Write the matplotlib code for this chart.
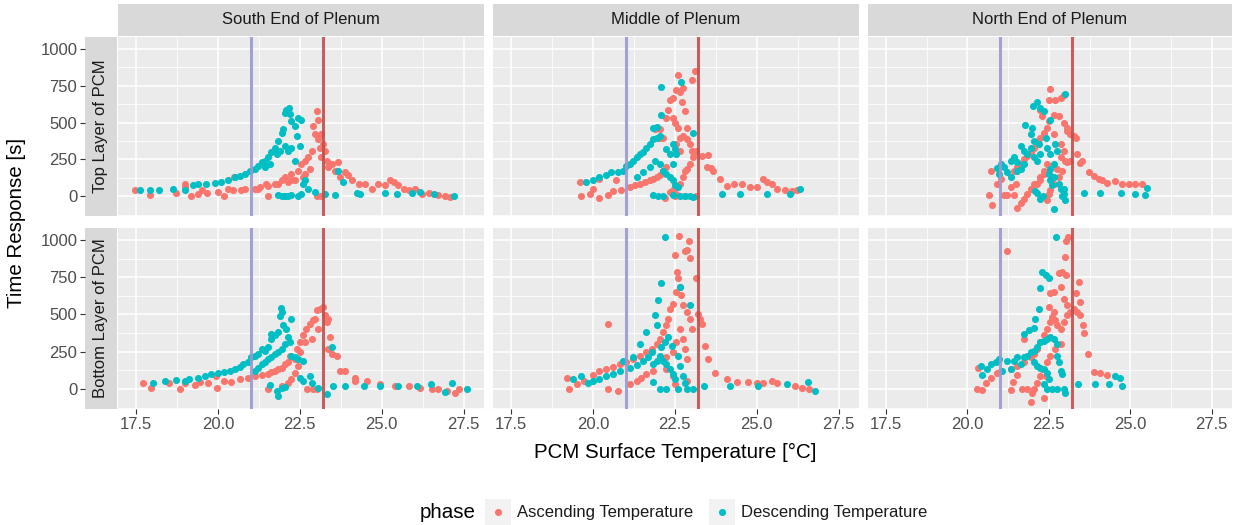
# PCM time response facets, ggplot-like look
import numpy as np
import matplotlib.pyplot as plt
from matplotlib.patches import Rectangle

plt.rcParams['font.family'] = ['Liberation Sans', 'DejaVu Sans']

columns = ['South End of Plenum', 'Middle of Plenum', 'North End of Plenum']
rows = ['Top Layer of PCM', 'Bottom Layer of PCM']
phases = ['Ascending Temperature', 'Descending Temperature']
x_ticks = [17.5, 20.0, 22.5, 25.0, 27.5]
y_ticks = [0, 250, 500, 750, 1000]
melt_lo = 21.0
melt_hi = 23.2

# (temperature, time response)
south_top_asc = [
    (17.47, 40), (17.93, 11), (18.72, 22), (18.98, 85), (19.0, 60), (19.18, 0), (19.39, 18),
    (19.5, 40), (19.67, 22), (20.0, 29), (20.18, 0), (20.3, 50), (20.46, 40), (20.5, 130),
    (20.7, 45), (20.82, 51), (21.12, 51), (21.22, 51), (21.28, 62), (21.48, 85), (21.53, 0),
    (21.53, 67), (21.73, 85), (21.84, 85), (21.94, 107), (22.04, 130), (22.14, 96), (22.24, 152),
    (22.24, 107), (22.35, 107), (22.45, 174), (22.55, 219), (22.6, 130), (22.65, 241), (22.65, 152),
    (22.76, 263), (22.8, 185), (22.86, 308), (22.91, 475), (22.96, 419), (23.01, 580), (23.04, 520),
    (23.06, 386), (23.11, 330), (23.14, 263), (23.16, 419), (23.21, 352), (23.27, 308), (23.32, 241),
    (23.37, 196), (23.47, 219), (23.57, 174), (23.67, 230), (23.72, 130), (23.88, 163), (23.98, 141),
    (24.08, 107), (24.29, 85), (24.49, 85), (24.7, 51), (24.9, 85), (25.1, 74), (25.26, 107),
    (25.36, 96), (25.51, 74), (25.67, 51), (25.82, 40), (26.02, 51), (26.23, 18), (26.43, 22),
    (26.73, 7), (26.94, 0), (27.09, -4), (23.01, 0), (23.16, 0)]
south_top_desc = [
    (17.63, 40), (17.93, 40), (18.21, 40), (18.62, 51), (18.98, 45), (19.23, 74), (19.39, 85),
    (19.64, 85), (19.9, 89), (20.1, 96), (20.31, 112), (20.51, 130), (20.66, 134), (20.82, 152),
    (20.97, 174), (21.12, 185), (21.22, 207), (21.33, 230), (21.43, 241), (21.53, 263), (21.63, 297),
    (21.73, 330), (21.84, 375), (21.94, 430), (21.99, 453), (22.04, 564), (22.09, 587), (22.16, 598),
    (22.19, 558), (22.24, 508), (22.35, 475), (22.45, 530), (22.55, 519), (22.4, 408), (22.5, 341),
    (22.24, 330), (22.04, 341), (22.14, 308), (21.79, 285), (21.89, 308), (21.58, 219), (21.43, 196),
    (22.35, 241), (21.84, 7), (21.94, 0), (22.04, 0), (22.14, 0), (22.24, 7), (22.45, 0),
    (22.53, 18), (22.6, 85), (22.65, 107), (22.76, 51), (22.96, 29), (23.27, 18), (23.57, 7),
    (23.67, 174), (23.83, 96), (24.23, 22), (24.33, 18), (25.1, 22), (25.46, 13), (25.92, 22),
    (26.17, 29), (26.58, 18), (27.19, 0)]

middle_top_asc = [
    (19.61, 96), (19.64, 0), (19.9, 18), (20.0, 51), (20.18, -9), (20.2, 118), (20.46, 7),
    (20.61, 36), (20.71, 107), (20.87, 45), (21.12, 62), (21.28, 74), (21.43, 85), (21.58, 96),
    (21.73, 107), (21.84, 118), (21.94, 130), (22.04, 147), (22.14, 174), (22.24, 196), (22.35, 29),
    (22.45, 40), (22.55, 18), (22.65, 85), (22.76, 130), (22.81, 174), (22.86, 185), (22.96, 219),
    (23.06, 263), (23.11, 297), (23.16, 308), (23.32, 275), (23.52, 281), (23.47, 196), (23.6, 190),
    (23.67, 174), (23.88, 118), (24.08, 67), (24.29, 85), (24.54, 85), (24.8, 62), (25.0, 62),
    (25.2, 118), (25.31, 96), (25.46, 85), (25.61, 51), (25.87, 40), (26.07, 36), (26.22, 45),
    (22.04, 453), (22.14, 397), (22.24, 530), (22.3, 586), (22.35, 653), (22.45, 664), (22.6, 821),
    (22.55, 720), (22.65, 709), (22.71, 642), (22.76, 731), (22.81, 575), (22.86, 464), (23.01, 787),
    (23.11, 847), (22.45, 530), (22.5, 497), (22.6, 464), (22.65, 397), (22.76, 408), (22.86, 386),
    (22.96, 352), (23.01, 308), (22.55, 352), (22.65, 308), (21.89, 453), (22.04, 397), (22.81, 0),
    (23.16, 0), (22.5, 0), (22.19, -9)]
middle_top_desc = [
    (19.8, 96), (20.0, 107), (20.2, 130), (20.41, 141), (20.56, 163), (20.76, 163), (20.92, 174),
    (21.02, 207), (21.12, 219), (21.22, 241), (21.33, 263), (21.43, 285), (21.53, 297), (21.63, 330),
    (21.73, 352), (21.84, 386), (21.94, 397), (22.04, 408), (22.09, 553), (21.84, 464), (21.94, 468),
    (22.07, 743), (22.68, 776), (23.04, 430), (21.33, 130), (21.53, 163), (21.73, 196), (21.89, 241),
    (22.04, 219), (22.14, 174), (22.24, 152), (22.35, 130), (22.45, 107), (22.5, 74), (22.6, 62),
    (22.45, 219), (22.55, 285), (22.5, 319), (22.45, 352), (22.35, 285), (22.24, 319), (21.84, 7),
    (21.99, 0), (22.14, 0), (22.45, 7), (22.65, 0), (22.81, 0), (22.96, 0), (23.06, -4),
    (23.93, 13), (24.49, 13), (25.31, 13), (26.02, 13), (26.31, 51)]

north_top_asc = [
    (20.66, 7), (20.76, -60), (20.71, 174), (20.92, 85), (21.02, 118), (21.12, 7), (21.22, 7),
    (21.33, 62), (21.43, 7), (21.48, 85), (21.51, -83), (21.63, -49), (21.73, -16), (21.84, 18),
    (21.94, 51), (22.04, 85), (22.14, 85), (22.24, 130), (22.35, 174), (22.45, 219), (22.5, 18),
    (22.45, -27), (22.55, 40), (22.65, 85), (22.81, 130), (22.91, 174), (23.01, 241), (23.16, 241),
    (23.37, 285), (23.52, 236), (23.47, 225), (23.72, 163), (23.88, 134), (24.03, 118), (24.13, 107),
    (24.29, 89), (24.54, 103), (24.74, 85), (24.95, 85), (25.15, 85), (25.36, 80), (22.55, 727),
    (22.5, 653), (22.7, 653), (22.86, 664), (22.96, 687), (22.24, 586), (22.3, 542), (22.65, 553),
    (22.8, 542), (22.96, 497), (23.06, 442), (23.27, 408), (23.32, 397), (22.5, 508), (22.45, 464),
    (22.35, 430), (22.24, 397), (22.14, 364), (22.04, 330), (21.94, 297), (21.84, 274), (21.73, 252),
    (21.63, 219), (21.53, 196), (21.43, 174), (22.65, 419), (22.86, 352), (22.96, 308), (23.06, 230),
    (22.86, 263), (22.76, 185), (22.35, 152), (22.24, 107), (23.06, 464), (23.16, 419)]
north_top_desc = [
    (20.9, 192), (20.97, 152), (21.02, 219), (21.12, 196), (21.22, 163), (21.33, 130), (21.33, 241),
    (21.43, 263), (21.53, 230), (21.63, 341), (21.73, 308), (21.78, 486), (21.94, 419), (21.99, 464),
    (22.01, 609), (22.14, 642), (22.24, 598), (22.35, 575), (22.55, 519), (22.4, 397), (22.19, 352),
    (22.04, 375), (21.94, 330), (21.84, 285), (21.73, 219), (21.63, 185), (21.53, 174), (22.04, 263),
    (22.14, 241), (22.24, 285), (22.45, 330), (22.55, 285), (22.7, 352), (22.76, 308), (22.65, 219),
    (22.55, 185), (22.5, 152), (22.55, 107), (22.6, 74), (22.65, 130), (22.81, 85), (22.86, 51),
    (22.96, 18), (23.01, -27), (22.91, 0), (22.65, -89), (22.24, -16), (22.14, 22), (22.09, 36),
    (22.32, 2), (23.01, 691), (22.96, 51), (23.57, 22), (24.08, 22), (24.7, 22), (25.15, 13),
    (25.46, 7), (25.51, 58)]

south_bot_asc = [
    (17.7, 38), (17.96, 9), (18.52, 43), (18.83, 0), (18.98, 38), (19.29, 25), (19.44, 47),
    (19.7, 43), (19.95, 88), (19.98, 9), (20.2, 54), (20.41, 47), (20.66, 65), (20.92, 77),
    (21.12, 88), (21.33, 92), (21.53, 99), (21.73, 122), (21.94, 144), (22.14, 178), (22.3, 212),
    (22.4, 268), (22.5, 314), (22.6, 359), (22.7, 404), (22.81, 438), (22.91, 460), (23.01, 528),
    (23.11, 539), (23.21, 551), (23.27, 494), (23.32, 449), (23.37, 472), (23.42, 348), (23.37, 268),
    (23.47, 235), (23.62, 223), (23.72, 122), (23.88, 122), (24.18, 77), (24.18, 54), (24.54, 54),
    (24.95, 32), (25.41, 20), (25.82, 20), (26.17, 9), (26.53, 2), (26.73, 2), (26.98, -14),
    (27.24, -25), (27.35, 0), (22.96, 472), (23.06, 404), (22.86, 336), (22.65, 314), (22.5, 246),
    (22.35, 201), (22.19, 223), (22.04, 167), (21.84, 137), (21.63, 115), (22.45, 155), (22.35, 110),
    (22.24, 65), (22.14, 38), (21.94, 20), (21.53, 2), (22.71, 2), (22.91, 0), (23.01, 2)]
south_bot_desc = [
    (18.01, 43), (18.37, 54), (18.72, 61), (18.98, 54), (19.13, 65), (19.39, 77), (19.59, 88),
    (19.8, 99), (20.0, 106), (20.2, 115), (20.36, 122), (20.51, 137), (20.66, 151), (20.77, 167),
    (20.92, 178), (21.02, 212), (21.12, 223), (21.22, 235), (21.33, 268), (21.43, 257), (21.53, 280),
    (21.63, 336), (21.63, 370), (21.73, 359), (21.84, 381), (21.89, 490), (21.92, 544), (21.94, 517),
    (21.99, 427), (22.09, 404), (22.14, 348), (22.24, 472), (22.19, 314), (22.04, 302), (21.94, 268),
    (21.84, 246), (21.73, 235), (21.63, 212), (21.53, 201), (21.43, 178), (21.33, 167), (21.22, 144),
    (21.12, 122), (22.24, 223), (22.35, 212), (22.45, 201), (22.6, 189), (22.5, 77), (22.6, 54),
    (22.81, 88), (22.86, 43), (23.06, 9), (23.32, -36), (23.47, 280), (23.52, 20), (23.88, 20),
    (24.47, 20), (24.95, 20), (25.51, 20), (26.07, 20), (26.51, 32), (26.94, -20), (27.14, 43),
    (27.6, 2), (21.58, 25), (21.84, -47), (21.94, 9), (22.04, 16), (21.81, -14)]

middle_bot_asc = [
    (19.2, 77), (19.27, 0), (19.52, 32), (19.74, 54), (20.0, 92), (20.2, 122), (20.41, 137),
    (20.46, 433), (20.46, 2), (20.61, 151), (20.76, -14), (20.82, 167), (21.02, 178), (21.12, 32),
    (21.22, 201), (21.33, 54), (21.43, 223), (21.48, 77), (21.63, 246), (21.63, 99), (21.79, 268),
    (21.84, 122), (21.94, 302), (22.04, 336), (22.14, 381), (22.24, 427), (22.3, 472), (22.35, 539),
    (22.45, 573), (22.5, 897), (22.55, 652), (22.57, 788), (22.6, 743), (22.63, 1025), (22.65, 686),
    (22.7, 630), (22.76, 562), (22.81, 924), (22.86, 935), (22.93, 995), (22.96, 878), (22.86, 517),
    (22.96, 472), (23.01, 404), (23.16, 743), (23.21, 506), (23.27, 472), (23.32, 438), (22.65, 404),
    (22.76, 336), (22.81, 268), (22.86, 201), (22.55, 314), (22.45, 246), (22.24, 212), (22.24, 133),
    (22.45, 88), (22.5, 32), (22.86, 54), (23.42, 291), (23.52, 201), (23.72, 110), (24.08, 65),
    (24.39, 47), (24.74, 47), (25.0, 43), (25.2, 43), (25.46, 54), (25.61, 38), (26.17, 20),
    (26.38, 9), (26.58, 2)]
middle_bot_desc = [
    (19.39, 70), (19.64, 88), (19.85, 43), (20.0, 54), (20.2, 65), (20.41, 88), (20.61, 99),
    (20.82, 122), (20.92, 189), (21.12, 144), (21.22, 212), (21.33, 158), (21.43, 302), (21.53, 189),
    (21.63, 381), (21.68, 212), (21.79, 246), (21.89, 497), (21.94, 427), (21.99, 594), (22.09, 708),
    (22.19, 1018), (22.09, 280), (22.19, 314), (22.3, 348), (22.4, 291), (22.04, 223), (21.94, 189),
    (21.84, 167), (22.14, 189), (22.24, 167), (22.35, 133), (22.45, 99), (22.5, 65), (22.65, 686),
    (22.96, 562), (22.6, 223), (22.65, 155), (22.76, 88), (22.81, 43), (21.84, 47), (22.04, 2),
    (22.24, 2), (22.6, 2), (22.86, 2), (23.06, 2), (23.38, 20), (24.18, 20), (25.05, 20),
    (25.92, 32), (26.55, 47), (26.77, -11)]

north_bot_asc = [
    (20.31, 2), (20.46, -7), (20.33, 144), (20.56, 43), (20.71, 77), (20.92, 110), (21.02, 122),
    (21.22, 923), (21.33, -7), (21.41, 47), (21.53, 95), (21.33, 133), (21.53, 155), (21.73, 178),
    (21.94, 212), (22.04, 235), (22.14, 268), (22.24, 314), (22.35, 359), (22.45, 404), (22.55, 449),
    (22.6, 483), (22.65, 517), (22.7, 461), (22.76, 427), (22.86, 404), (22.96, 449), (23.06, 494),
    (23.16, 517), (23.27, 539), (23.37, 517), (23.47, 494), (23.42, 720), (23.32, 641), (23.47, 584),
    (23.55, 427), (23.59, 377), (23.69, 235), (22.5, 548), (22.55, 641), (22.65, 652), (22.81, 776),
    (22.91, 788), (23.04, 765), (22.98, 883), (23.04, 991), (23.1, 1018), (22.86, 686), (22.96, 607),
    (23.06, 562), (21.73, 337), (21.68, 2), (21.84, 2), (21.99, -25), (21.96, -86), (22.04, 2),
    (22.14, 43), (22.24, 88), (22.3, 133), (22.35, -63), (22.4, 88), (22.45, 178), (22.55, 223),
    (22.7, 268), (22.86, 302), (23.88, 115), (24.08, 106), (24.29, 95)]
north_bot_desc = [
    (20.41, 155), (20.46, 92), (20.61, 133), (20.71, 167), (20.87, 178), (20.97, 201), (21.07, 122),
    (21.22, 189), (21.33, 133), (21.43, 189), (21.53, 212), (21.63, 167), (21.73, 212), (21.84, 223),
    (21.94, 246), (22.04, 257), (22.14, 280), (22.24, 314), (22.35, 325), (22.45, 337), (22.55, 348),
    (22.65, 337), (22.76, 302), (22.76, 223), (22.81, 178), (22.86, 122), (22.91, 99), (21.73, 370),
    (21.89, 393), (22.04, 411), (22.09, 472), (22.19, 539), (22.24, 680), (22.3, 788), (22.4, 765),
    (22.5, 743), (22.71, 1018), (22.04, 178), (22.14, 155), (22.24, 144), (22.35, 133), (22.45, 110),
    (22.5, 65), (22.35, 32), (22.45, 2), (22.6, 2), (22.76, 2), (22.96, 0), (23.01, -25),
    (23.4, 32), (23.93, 32), (24.34, 32), (24.54, 88), (24.68, 77), (24.74, 20)]

panel_data = [
    [(south_top_asc, south_top_desc), (middle_top_asc, middle_top_desc), (north_top_asc, north_top_desc)],
    [(south_bot_asc, south_bot_desc), (middle_bot_asc, middle_bot_desc), (north_bot_asc, north_bot_desc)],
]

colors = ['#F8766D', '#00BFC4']
W, H = 1233, 525
fig = plt.figure(figsize=(W / 100, H / 100), dpi=100)


def rect(x0, y0, x1, y1):
    return [x0 / W, 1 - y1 / H, (x1 - x0) / W, (y1 - y0) / H]


col_px = [(118, 484), (493, 859), (868, 1232)]
row_px = [(37, 216), (228, 409)]
xlim = (16.95, 28.12)
ylim = (-134, 1080)
txt = '#1A1A1A'
tickc = '#4D4D4D'

for r, (y0, y1) in enumerate(row_px):
    # row strip, carrying the y axis ticks
    sax = fig.add_axes(rect(85, y0, 117, y1))
    sax.set_facecolor('#D9D9D9')
    sax.set_ylim(ylim)
    sax.set_xticks([])
    sax.set_yticks(y_ticks)
    sax.tick_params(axis='y', length=3.5, width=0.8, color='#333333', labelsize=12,
                    labelcolor=tickc, pad=2)
    for s in sax.spines.values():
        s.set_visible(False)
    sax.text(0.5, 0.5, rows[r], rotation=90, ha='center', va='center', fontsize=12,
             color=txt, transform=sax.transAxes)

    for c, (x0, x1) in enumerate(col_px):
        ax = fig.add_axes(rect(x0, y0, x1, y1))
        ax.set_facecolor('#EBEBEB')
        ax.set_xlim(xlim)
        ax.set_ylim(ylim)
        ax.set_xticks(x_ticks)
        ax.set_xticks([18.75, 21.25, 23.75, 26.25], minor=True)
        ax.set_yticks(y_ticks)
        ax.set_yticks([-125, 125, 375, 625, 875], minor=True)
        ax.grid(which='major', color='white', linewidth=1.1)
        ax.grid(which='minor', color='white', linewidth=0.55)
        ax.set_axisbelow(True)
        for s in ax.spines.values():
            s.set_visible(False)
        ax.tick_params(axis='y', which='both', left=False, labelleft=False)
        if r == 1:
            ax.set_xticklabels([f'{t:.1f}' for t in x_ticks])
            ax.tick_params(axis='x', which='major', length=3.5, width=0.8, color='#333333',
                           labelsize=12, labelcolor=tickc, pad=2)
            ax.tick_params(axis='x', which='minor', bottom=False)
        else:
            ax.tick_params(axis='x', which='both', bottom=False, labelbottom=False)

        for k, pts in enumerate(panel_data[r][c]):
            arr = np.array(pts)
            ax.scatter(arr[:, 0], arr[:, 1], s=26, color=colors[k], linewidths=0, zorder=2)
        ax.axvline(melt_lo, color='#9C98D0', linewidth=2.2, alpha=0.9, zorder=3)
        ax.axvline(melt_hi, color='#C0504D', linewidth=2.2, alpha=0.9, zorder=3)

        if r == 0:
            cax = fig.add_axes(rect(x0, 4, x1, 36))
            cax.set_facecolor('#D9D9D9')
            cax.set_xticks([])
            cax.set_yticks([])
            for s in cax.spines.values():
                s.set_visible(False)
            cax.text(0.5, 0.5, columns[c], ha='center', va='center', fontsize=12, color=txt,
                     transform=cax.transAxes)

fig.text(675 / W, 1 - 452 / H, 'PCM Surface Temperature [°C]', ha='center', va='center',
         fontsize=14.8, color='black')
fig.text(17 / W, 1 - 223 / H, 'Time Response [s]', ha='center', va='center', rotation=90,
         fontsize=14.8, color='black')

# legend at the bottom
lax = fig.add_axes([0, 0, 1, 1], zorder=-1)
lax.set_xlim(0, W)
lax.set_ylim(H, 0)
lax.axis('off')
ly = 512
lax.text(420, ly, 'phase', ha='left', va='center', fontsize=14.8, color='black')
key_x = [485, 709]
for k, kx in enumerate(key_x):
    lax.add_patch(Rectangle((kx, ly - 13), 26, 26, facecolor='#F2F2F2', edgecolor='none'))
    lax.scatter([kx + 13], [ly], s=26, color=colors[k], linewidths=0)
    lax.text(kx + 32, ly, phases[k], ha='left', va='center', fontsize=12, color=txt)

fig.savefig('out.png', dpi=100)
